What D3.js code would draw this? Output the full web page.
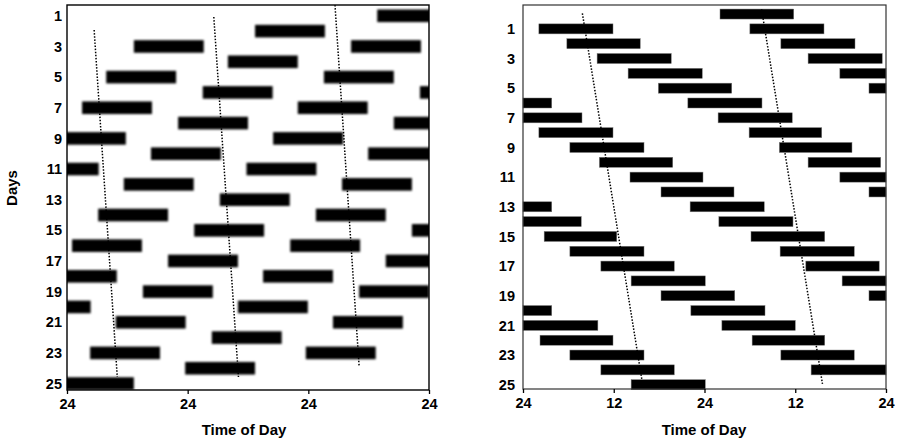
<html>
<title>Actograms</title>
<script src="https://d3js.org/d3.v7.min.js"></script>
<style>
body { margin: 0; background: #fff; }
text { font-family: Arial, "Liberation Sans", sans-serif; font-weight: bold; }
</style>
<body>
<div id="chart"></div>
<script>
// left panel: triple plotted, bar onsets (hours in a 0-72 window) per day row
var leftDays = [1,2,3,4,5,6,7,8,9,10,11,12,13,14,15,16,17,18,19,20,21,22,23,24,25];
var leftOnsets = [
  [61.7], [37.4], [13.3, 56.5], [32.0], [7.8, 51.1], [27.0, 70.2], [3.0, 45.9],
  [22.1, 65.0], [-2.2, 41.0], [16.7, 59.9], [-7.6, 35.7], [11.3, 54.7], [30.4],
  [6.2, 49.5], [25.3, 68.6], [1.0, 44.4], [20.1, 63.4], [-4.0, 39.0], [15.1, 58.1],
  [-9.2, 34.0], [9.7, 52.9], [28.8], [4.6, 47.5], [23.5], [-0.6]
];
var leftDuration = 13.9;
var leftTicks = [0, 24, 48, 72];
var leftTickLabels = ["24", "24", "24", "24"];
// dotted guide lines: [day, hour] endpoints
var leftGuides = [
  [[1.93, 5.4], [24.57, 10.0]],
  [[1.08, 29.2], [24.57, 34.1]],
  [[0.3, 53.3], [23.86, 58.1]]
];

// right panel: double plotted, bars [start, end] (hours in a 0-48 window) per row
var rightDays = d3.range(0, 26);
var rightBars = [
  [[26.05, 35.8]],
  [[2.1, 11.9], [30.0, 39.8]],
  [[5.8, 15.5], [34.1, 43.9]],
  [[9.8, 19.6], [37.7, 47.5]],
  [[13.9, 23.7], [41.9, 48]],
  [[17.9, 27.6], [45.75, 48]],
  [[0, 3.8], [21.8, 31.6]],
  [[0, 7.8], [25.8, 35.6]],
  [[2.1, 11.9], [29.9, 39.5]],
  [[6.2, 16.0], [33.9, 43.5]],
  [[10.1, 19.8], [37.7, 47.3]],
  [[14.15, 23.8], [41.9, 48]],
  [[18.25, 27.9], [45.75, 48]],
  [[0, 3.8], [22.1, 31.9]],
  [[0, 7.7], [25.9, 35.7]],
  [[2.8, 12.4], [30.15, 39.9]],
  [[6.2, 16.0], [34.0, 43.8]],
  [[10.3, 20.0], [37.4, 47.1]],
  [[14.3, 24.1], [42.2, 48]],
  [[18.25, 28.0], [45.75, 48]],
  [[0, 3.8], [22.2, 32.0]],
  [[0, 9.9], [26.3, 36.0]],
  [[2.25, 11.9], [30.3, 39.9]],
  [[6.2, 16.0], [34.1, 43.8]],
  [[10.3, 20.0], [38.1, 48]],
  [[14.3, 24.1]]
];
var rightTicks = [0, 12, 24, 36, 48];
var rightTickLabels = ["24", "12", "24", "12", "24"];
var rightGuides = [
  [[-0.05, 7.85], [24.6, 15.7]],
  [[-0.32, 31.55], [24.95, 39.6]]
];
var dayLabels = [1,3,5,7,9,11,13,15,17,19,21,23,25];

var width = 898, height = 442;
var svg = d3.select("#chart").append("svg")
    .attr("width", width)
    .attr("height", height);

var defs = svg.append("defs");
defs.append("filter").attr("id", "blur")
    .attr("x", "-10%").attr("y", "-50%").attr("width", "120%").attr("height", "200%")
  .append("feGaussianBlur").attr("stdDeviation", 1.1);

// ---------- left panel ----------
var xL = d3.scaleLinear().domain([0, 72]).range([67, 429]);
var yL = d3.scaleLinear().domain([0.295, 25.42]).range([5, 390]);

defs.append("clipPath").attr("id", "clipL").append("rect")
    .attr("x", xL(0)).attr("y", yL.range()[0])
    .attr("width", xL(72) - xL(0)).attr("height", yL.range()[1] - yL.range()[0]);

var leftData = [];
leftOnsets.forEach(function(row, i) {
  row.forEach(function(o) { leftData.push({day: leftDays[i], start: o, end: o + leftDuration}); });
});

var gL = svg.append("g").attr("clip-path", "url(#clipL)");
gL.append("g").attr("filter", "url(#blur)")
  .selectAll("rect").data(leftData).enter().append("rect")
    .attr("x", function(d) { return xL(d.start); })
    .attr("y", function(d) { return yL(d.day) - 6.3; })
    .attr("width", function(d) { return xL(d.end) - xL(d.start); })
    .attr("height", 12.6)
    .attr("fill", "#000");

var line = d3.line();
svg.append("g").selectAll("path").data(leftGuides).enter().append("path")
    .attr("d", function(d) { return line(d.map(function(p) { return [xL(p[1]), yL(p[0])]; })); })
    .attr("stroke", "#000").attr("stroke-width", 1.5)
    .attr("stroke-dasharray", "1.5,1.6").attr("fill", "none");

svg.append("rect")
    .attr("x", xL(0)).attr("y", yL.range()[0])
    .attr("width", xL(72) - xL(0)).attr("height", yL.range()[1] - yL.range()[0])
    .attr("fill", "none").attr("stroke", "#000").attr("stroke-width", 1.4);

var axL = svg.append("g").attr("transform", "translate(0," + yL.range()[1] + ")")
    .call(d3.axisBottom(xL).tickValues(leftTicks).tickSize(4).tickPadding(5)
      .tickFormat(function(d, i) { return leftTickLabels[i]; }));
var ayL = svg.append("g").attr("transform", "translate(" + xL(0) + ",0)")
    .call(d3.axisLeft(yL).tickValues(dayLabels).tickSize(0).tickPadding(5));

// ---------- right panel ----------
var xR = d3.scaleLinear().domain([0, 48]).range([523, 886]);
var yR = d3.scaleLinear().domain([-0.61, 25.29]).range([5, 389]);

var rightData = [];
rightBars.forEach(function(row, i) {
  row.forEach(function(b) { rightData.push({day: rightDays[i], start: b[0], end: b[1]}); });
});

svg.append("g").selectAll("rect").data(rightData).enter().append("rect")
    .attr("x", function(d) { return xR(d.start); })
    .attr("y", function(d) { return yR(d.day) - 5; })
    .attr("width", function(d) { return xR(d.end) - xR(d.start); })
    .attr("height", 10)
    .attr("fill", "#000").attr("stroke", "#777").attr("stroke-width", 0.5);

svg.append("g").selectAll("path").data(rightGuides).enter().append("path")
    .attr("d", function(d) { return line(d.map(function(p) { return [xR(p[1]), yR(p[0])]; })); })
    .attr("stroke", "#000").attr("stroke-width", 1.5)
    .attr("stroke-dasharray", "1.5,1.6").attr("fill", "none");

svg.append("rect")
    .attr("x", xR(0)).attr("y", yR.range()[0])
    .attr("width", xR(48) - xR(0)).attr("height", yR.range()[1] - yR.range()[0])
    .attr("fill", "none").attr("stroke", "#333").attr("stroke-width", 1.2);

var axR = svg.append("g").attr("transform", "translate(0," + yR.range()[1] + ")")
    .call(d3.axisBottom(xR).tickValues(rightTicks).tickSize(4).tickPadding(5)
      .tickFormat(function(d, i) { return rightTickLabels[i]; }));
var ayR = svg.append("g").attr("transform", "translate(" + xR(0) + ",0)")
    .call(d3.axisLeft(yR).tickValues(dayLabels).tickSize(0).tickPadding(8));

[axL, ayL, axR, ayR].forEach(function(a) {
  a.select(".domain").remove();
  a.selectAll("text").style("font-size", "14.5px").attr("fill", "#000")
    .style("font-family", "Arial, 'Liberation Sans', sans-serif").style("font-weight", "bold");
  a.selectAll("line").attr("stroke", "#000").attr("stroke-width", 1.3);
});

// titles
svg.append("text").attr("x", 244).attr("y", 435)
    .attr("text-anchor", "middle").style("font-size", "15px").text("Time of Day");
svg.append("text").attr("x", 704).attr("y", 435)
    .attr("text-anchor", "middle").style("font-size", "15px").text("Time of Day");
svg.append("text").attr("transform", "translate(17,188)rotate(-90)")
    .attr("text-anchor", "middle").style("font-size", "15px").text("Days");
</script>
</body>
</html>
